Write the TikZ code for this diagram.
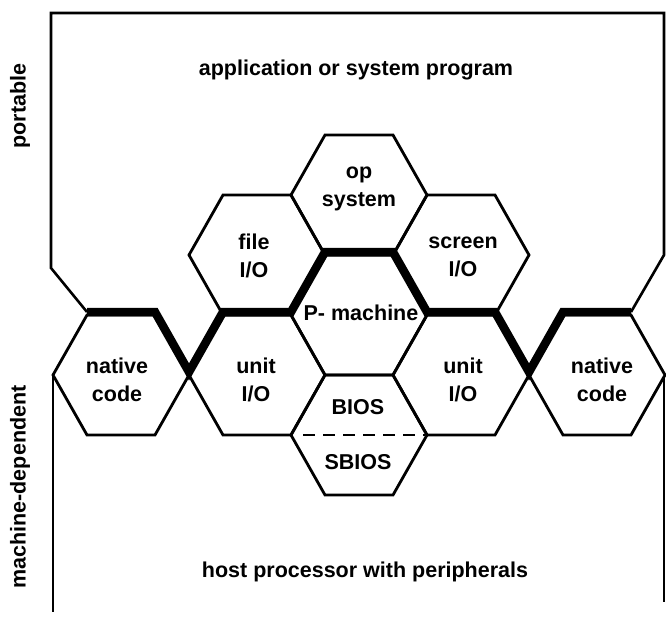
\documentclass[tikz,border=0pt]{standalone}
\usepackage{fontspec}
\setmainfont{Liberation Sans}
\begin{document}
\begin{tikzpicture}[x=1pt,y=-1pt,
  hexline/.style={line width=2.8pt, line join=miter},
  boxline/.style={line width=2.6pt, line join=miter},
  thickline/.style={line width=8.5pt, line join=miter, miter limit=3},
  lbl/.style={font=\fontsize{21.5}{28}\selectfont\bfseries, align=center, inner sep=0pt},
  hexa/.pic={\draw[hexline] (-68,0) -- (-34,-60) -- (34,-60) -- (68,0) -- (34,60) -- (-34,60) -- cycle;}]
\useasboundingbox (0,0) rectangle (666,618);

% hexagons
\pic at (121,375) {hexa};
\pic at (257,375) {hexa};
\pic at (257,255) {hexa};
\pic at (359,195) {hexa};
\pic at (359,315) {hexa};
\pic at (359,435) {hexa};
\pic at (461,375) {hexa};
\pic at (461,255) {hexa};
\pic at (597,375) {hexa};

% boundary between portable and machine-dependent
\draw[thickline, yshift=3pt] (87,315) -- (155,315) -- (189,375) -- (223,315) -- (291,315)
  -- (325,255) -- (393,255) -- (427,315) -- (495,315) -- (529,375) -- (563,315) -- (631,315);

% outer frame
\draw[boxline] (87,312) -- (51,268) -- (51,13) -- (664,13) -- (664,255) -- (631,312);
\draw[boxline] (53,375) -- (53,612);
\draw[boxline] (664,377) -- (664,602);

% BIOS / SBIOS split
\draw[line width=1.4pt, dash pattern=on 12pt off 8pt] (303,435) -- (425,435);

% labels
\node[lbl] (app) at (356,70) {application or system program};
\node[lbl] (host) at (365,572) {host processor with peripherals};
\node[lbl, rotate=90] (port) at (20,106) {portable};
\node[lbl, rotate=90] (mdep) at (20,487) {machine-dependent};

\node[lbl] (ops) at (359,189) {op\\system};
\node[lbl] (fio) at (254,256) {file\\I/O};
\node[lbl] (sio) at (463,257) {screen\\I/O};
\node[lbl] (pm) at (361,313) {P- machine};
\node[lbl] (uiol) at (256,380) {unit\\I/O};
\node[lbl] (uior) at (463,380) {unit\\I/O};
\node[lbl] (ncl) at (117,380) {native\\code};
\node[lbl] (ncr) at (602,380) {native\\code};
\node[lbl] (bios) at (358,407) {BIOS};
\node[lbl] (sbios) at (358,462) {SBIOS};
\end{tikzpicture}
\end{document}
